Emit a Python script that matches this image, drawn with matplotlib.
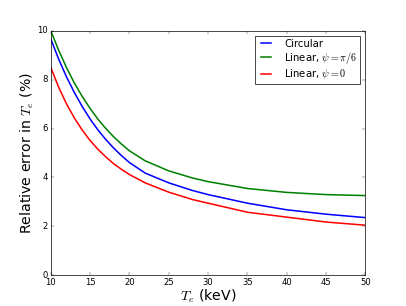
import matplotlib
matplotlib.use('Agg')
from matplotlib import pyplot as plt

# electron temperature (keV)
Te = [10, 11, 12, 13, 14, 15, 16, 17, 18, 19, 20, 22, 25, 28, 30, 35, 40, 45, 50]

# relative error in Te (%)
err_circular = [9.66, 8.84, 8.11, 7.47, 6.90, 6.39, 5.94, 5.55, 5.20, 4.89, 4.61,
                4.18, 3.78, 3.47, 3.30, 2.95, 2.68, 2.50, 2.36]
err_lin_pi6 = [10.0, 9.20, 8.49, 7.86, 7.31, 6.82, 6.38, 6.00, 5.66, 5.36, 5.09,
               4.68, 4.27, 3.98, 3.83, 3.55, 3.39, 3.30, 3.26]
err_lin_0 = [8.50, 7.69, 7.01, 6.43, 5.94, 5.51, 5.15, 4.84, 4.56, 4.33, 4.12,
             3.78, 3.40, 3.10, 2.95, 2.58, 2.38, 2.18, 2.05]

plt.style.use('classic')
plt.rcParams['mathtext.fontset'] = 'cm'

fig = plt.figure(figsize=(8, 6.03))
ax = fig.add_subplot(111)

ax.plot(Te, err_circular, 'b-', lw=2.2, label='Circular')
ax.plot(Te, err_lin_pi6, 'g-', lw=2.2, label=r'Linear, $\psi=\pi/6$')
ax.plot(Te, err_lin_0, 'r-', lw=2.2, label=r'Linear, $\psi=0$')

ax.set_xlim(10, 50)
ax.set_ylim(0, 10)
ax.set_xticks(range(10, 51, 5))
ax.set_yticks(range(0, 11, 2))
ax.set_xlabel(r'$T_e$ (keV)', fontsize=20, labelpad=0)
ax.set_ylabel(r'Relative error in $T_e$ (%)', fontsize=20, labelpad=1)
ax.legend(loc='upper right', fontsize=14.4, labelspacing=0.12, borderpad=0.3,
          handlelength=1.6, handletextpad=1.0)

fig.savefig('out.png', dpi=50.75)
